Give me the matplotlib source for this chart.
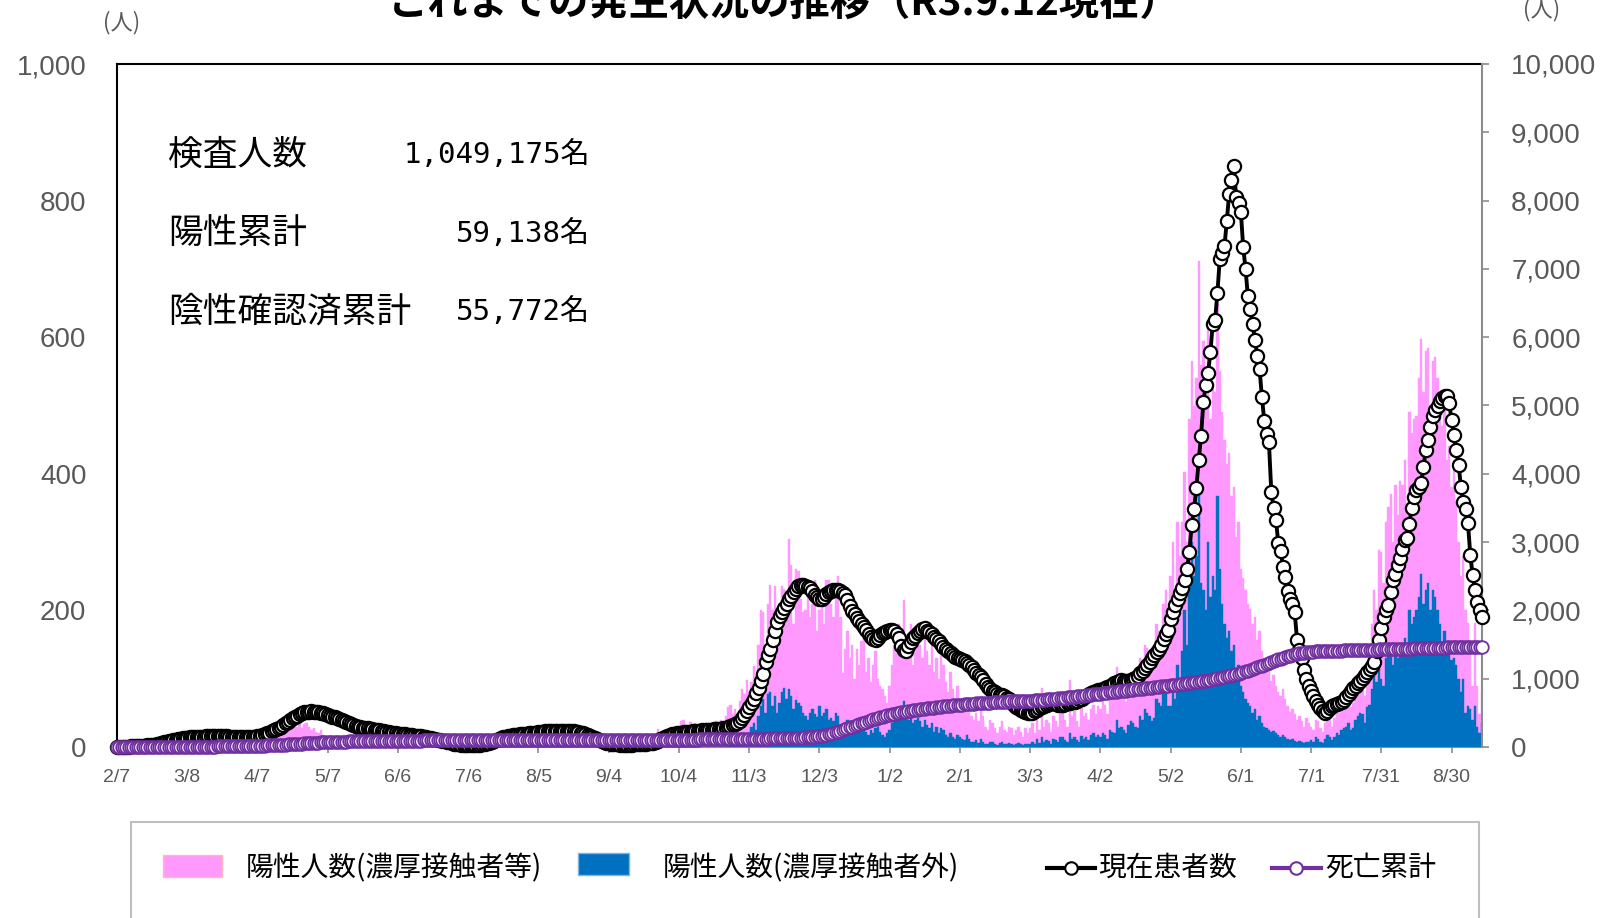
import numpy as np
import pandas as pd
import matplotlib
matplotlib.use("Agg")
import matplotlib.pyplot as plt
from matplotlib.patches import Rectangle
from matplotlib.lines import Line2D
from matplotlib.ticker import FuncFormatter, MultipleLocator

# ---------------- data ----------------
dates = pd.date_range("2020-02-07", "2021-09-12", freq="D")

tick_labels = ["2/7", "3/8", "4/7", "5/7", "6/6", "7/6", "8/5", "9/4", "10/4", "11/3",
               "12/3", "1/2", "2/1", "3/3", "4/2", "5/2", "6/1", "7/1", "7/31", "8/30"]
tick_step = 30

# daily positives, total (pink top) - left axis
daily_total = [
    0, 0, 0, 0, 0, 0, 0, 1, 0, 1, 1, 2, 1, 3, 4, 2, 5, 6, 8, 9, 7, 10, 12, 15, 9, 6, 10, 4, 6, 3,
    3, 5, 2, 4, 1, 6, 3, 2, 1, 3, 2, 4, 1, 2, 3, 1, 0, 2, 1, 3, 2, 4, 5, 3, 6, 4, 3, 5, 7, 9,
    8, 12, 18, 15, 20, 22, 25, 18, 28, 30, 24, 35, 40, 32, 38, 45, 47, 30, 36, 28, 33, 35, 30, 25, 28, 22, 20, 25, 18, 15,
    14, 16, 12, 10, 15, 8, 12, 9, 7, 10, 8, 6, 5, 9, 7, 11, 6, 4, 8, 5, 7, 3, 6, 4, 2, 5, 3, 1, 4, 2,
    3, 2, 4, 1, 2, 0, 3, 2, 1, 5, 2, 3, 1, 0, 2, 4, 1, 3, 2, 0, 1, 2, 0, 1, 3, 1, 0, 2, 1, 0,
    1, 0, 2, 1, 0, 3, 1, 2, 0, 1, 2, 4, 3, 5, 2, 6, 4, 3, 8, 5, 7, 6, 9, 5, 8, 10, 7, 6, 12, 25,
    8, 10, 7, 12, 9, 6, 11, 8, 14, 9, 10, 7, 12, 8, 6, 9, 26, 10, 8, 12, 7, 9, 6, 10, 8, 5, 7, 9, 6, 4,
    5, 3, 6, 4, 8, 5, 7, 3, 6, 9, 5, 8, 4, 7, 10, 6, 9, 12, 8, 11, 7, 26, 10, 14, 9, 12, 16, 11, 15, 13,
    18, 38, 40, 25, 30, 36, 22, 35, 28, 24, 32, 26, 30, 34, 28, 25, 38, 30, 40, 35, 45, 58, 62, 48, 55, 42, 68, 85, 78, 98,
    80, 95, 119, 105, 150, 200, 197, 150, 210, 237, 200, 236, 160, 190, 235, 232, 229, 304, 266, 180,
    260, 257, 216, 197, 200, 233, 190, 210, 244, 170,
    201, 215, 180, 244, 244, 210, 190, 230, 250, 190, 108, 144, 170, 130, 150, 100, 144, 120, 155, 168,
    110, 130, 95, 120, 140, 100, 90, 85, 75, 65,
    90, 120, 150, 138, 180, 150, 215, 160, 140, 180, 120, 160, 175, 150, 130, 175, 140, 120, 150, 110,
    130, 100, 135, 120, 95, 80, 110, 85, 70, 90,
    70, 60, 55, 70, 62, 45, 40, 50, 38, 55, 45, 30, 25, 40, 35, 28, 20, 30, 38, 25, 22, 30, 28, 18, 25, 30, 22, 15, 28, 20,
    28, 35, 20, 45, 25, 86, 30, 40, 35, 22, 45, 38, 30, 50, 55, 40, 30, 98, 45, 52, 38, 30, 58, 45, 50, 40, 55, 62, 48, 60,
    55, 70, 62, 48, 80, 75, 70, 117, 85, 90, 78, 66, 95, 110, 100, 92, 85, 130, 120, 150,
    145, 130, 110, 125, 180, 170, 160, 210, 230, 160,
    250, 300, 230, 330, 280, 330, 402, 300, 480, 565, 500, 540, 712, 560, 595, 500, 618, 480, 535, 520,
    648, 550, 490, 450, 414, 430, 368, 380, 308, 330,
    260, 248, 230, 210, 202, 180, 190, 157, 170, 140, 130, 120, 110, 97, 105, 90, 80, 74, 85, 70,
    60, 51, 55, 48, 40, 45, 38, 30, 42, 35,
    30, 25, 40, 38, 28, 22, 35, 48, 40, 30, 42, 55, 50, 62, 68, 70, 80, 58, 65, 88,
    95, 110, 100, 75, 120, 130, 180, 230, 200, 288,
    285, 240, 330, 352, 370, 300, 384, 340, 390, 384, 420, 350, 490, 460, 480, 484, 540, 598, 520, 580,
    584, 500, 565, 571, 540, 497, 470, 510, 420, 440,
    380, 420, 360, 300, 250, 280, 200, 181, 150, 90, 181, 90, 49, 80,
]

# daily positives, not close contacts (blue) - left axis
daily_other = (
    [0] * 262 + [2, 3, 2, 4, 6, 8, 10, 15] + [
    20, 30, 35, 25, 45, 60, 70, 50, 78, 80, 60, 75, 50, 65, 80, 86, 70, 85, 75, 55,
    69, 65, 60, 50, 45, 40, 50, 55, 48, 44,
    60, 45, 50, 55, 40, 42, 38, 50, 45, 30, 25, 35, 40, 28, 32, 22, 30, 25, 35, 28,
    22, 18, 25, 20, 28, 30, 22, 18, 15, 20,
    25, 35, 40, 50, 55, 45, 68, 50, 40, 45, 35, 40, 42, 38, 30, 40, 32, 28, 35, 22,
    30, 20, 28, 25, 18, 15, 20, 15, 12, 18,
    15, 12, 10, 18, 12, 8, 7, 10, 6, 12, 8, 5, 4, 8, 7, 5, 3, 6, 8, 5, 4, 6, 5, 3, 5, 6, 4, 3, 5, 4,
    5, 8, 4, 12, 6, 15, 8, 10, 9, 5, 12, 10, 8, 14, 15, 10, 8, 20, 12, 15, 10, 8, 16, 12, 15, 10, 18, 20, 15, 18,
    15, 20, 18, 12, 25, 22, 20, 40, 28, 30, 25, 20, 32, 38, 35, 30, 28, 45, 40, 55,
    50, 45, 38, 42, 70, 65, 60, 80, 95, 60,
    60, 90, 70, 120, 100, 140, 200, 150, 260, 300, 250, 280, 370, 240, 230, 200, 300, 220, 250, 230,
    368, 260, 210, 180, 160, 170, 140, 150, 110, 120,
    90, 80, 70, 65, 60, 50, 55, 40, 45, 35, 30, 28, 25, 22, 24, 20, 18, 15, 18, 14,
    12, 10, 11, 9, 8, 9, 7, 6, 8, 7,
    10, 8, 15, 12, 8, 6, 12, 18, 14, 10, 15, 20, 18, 25, 28, 30, 35, 25, 28, 40,
    45, 50, 48, 35, 58, 62, 85, 110, 95, 140,
    100, 90, 130, 147, 140, 120, 137, 130, 150, 140, 160, 150, 200, 180, 190, 200, 220, 254, 210, 230,
    240, 200, 230, 220, 200, 180, 150, 170, 147, 140,
    127, 130, 120, 100, 80, 100, 50, 60, 55, 39, 60, 30, 20, 35,
])

# current patients - right axis
current_patients = [
    5, 5, 5, 6, 6, 7, 8, 9, 10, 12, 14, 16, 19, 22, 26, 30, 36, 42, 50, 58, 66, 74, 82, 90, 98, 106, 114, 120, 126, 132,
    136, 140, 143, 146, 148, 150, 152, 153, 154, 155, 155, 156, 156, 157, 157, 156, 155, 154, 153, 152,
    150, 148, 147, 146, 145, 145, 146, 148, 150, 152,
    155, 162, 172, 185, 198, 212, 228, 245, 262, 280, 300, 322, 345, 370, 395, 420, 440, 460, 478, 494,
    506, 514, 518, 520, 518, 514, 508, 500, 492, 482,
    470, 458, 446, 434, 420, 406, 392, 378, 364, 350, 336, 322, 310, 300, 292, 285, 278, 272, 266, 260,
    254, 248, 242, 236, 230, 224, 218, 212, 206, 200,
    196, 192, 188, 184, 180, 176, 172, 168, 164, 160, 156, 150, 144, 138, 130, 122, 114, 106, 98, 90,
    82, 74, 66, 58, 50, 44, 40, 36, 34, 32,
    30, 30, 30, 31, 32, 34, 38, 44, 52, 62, 74, 88, 102, 116, 130, 142, 152, 160, 166, 172,
    176, 180, 184, 188, 192, 196, 200, 204, 208, 212,
    216, 220, 224, 228, 230, 232, 234, 236, 238, 240, 240, 240, 238, 236, 234, 230, 226, 220, 212, 202,
    190, 176, 160, 144, 128, 112, 98, 84, 72, 62,
    54, 48, 44, 40, 38, 36, 35, 34, 34, 35, 36, 38, 40, 42, 44, 46, 48, 52, 56, 62,
    72, 90, 110, 130, 150, 165, 178, 188, 196, 202,
    206, 210, 214, 218, 222, 226, 230, 233, 236, 239, 242, 245, 248, 251, 254, 257, 260, 264, 268, 274,
    282, 292, 304, 318, 336, 358, 385, 420, 470, 530,
    590, 650, 710, 790, 870, 960, 1070, 1250, 1350, 1440, 1560, 1700, 1830, 1920, 1980, 2030, 2100, 2160, 2210, 2270,
    2320, 2360, 2370, 2365, 2355, 2345, 2330, 2280, 2230, 2190,
    2160, 2170, 2200, 2240, 2270, 2290, 2300, 2300, 2295, 2285, 2260, 2225, 2150, 2060, 1990, 1940, 1890, 1850, 1800, 1760,
    1710, 1650, 1610, 1580, 1570, 1600, 1640, 1670, 1690, 1705,
    1720, 1715, 1705, 1650, 1590, 1480, 1420, 1400, 1480, 1540, 1590, 1630, 1665, 1700, 1730, 1735, 1700, 1680, 1650, 1615,
    1580, 1545, 1510, 1470, 1440, 1400, 1370, 1345, 1325, 1305,
    1285, 1275, 1255, 1230, 1200, 1175, 1130, 1090, 1050, 1030, 980, 920, 880, 850, 820, 800, 780, 765, 760, 740,
    720, 700, 660, 620, 590, 565, 545, 530, 515, 505,
    495, 500, 520, 545, 565, 590, 605, 615, 630, 640, 640, 630, 620, 615, 620, 630, 640, 645, 655, 665,
    680, 700, 710, 730, 750, 770, 785, 800, 815, 830,
    840, 855, 870, 885, 900, 915, 930, 945, 960, 980, 970, 960, 970, 980, 990, 1010, 1040, 1080, 1110, 1160,
    1200, 1250, 1300, 1350, 1390, 1440, 1490, 1580, 1660, 1720,
    1880, 1980, 2080, 2170, 2250, 2330, 2450, 2600, 2850, 3250, 3480, 3790, 4200, 4550, 5050, 5300, 5470, 5780, 6200, 6250,
    6650, 7150, 7240, 7330, 7700, 8100, 8300, 8510, 8050, 7960,
    7840, 7320, 7000, 6600, 6420, 6200, 5960, 5730, 5530, 5120, 4780, 4580, 4460, 3740, 3500, 3330, 2980, 2870, 2640, 2490,
    2290, 2170, 2090, 1970, 1570, 1420, 1300, 1130, 1000, 900,
    820, 740, 680, 620, 570, 530, 500, 520, 570, 600, 615, 635, 650, 665, 690, 730, 780, 820, 860, 900,
    935, 970, 1010, 1060, 1100, 1140, 1180, 1250, 1400, 1570,
    1740, 1900, 2000, 2080, 2270, 2440, 2540, 2660, 2760, 2900, 3030, 3060, 3270, 3500, 3660, 3760, 3810, 3860, 4100, 4350,
    4500, 4690, 4840, 4930, 4990, 5060, 5110, 5140, 5140, 5030,
    4790, 4570, 4350, 4130, 3810, 3590, 3490, 3280, 2810, 2520, 2300, 2130, 2000, 1910,
]

# cumulative deaths - right axis
deaths_cum = [
    0, 0, 0, 0, 0, 0, 0, 0, 0, 0, 0, 0, 0, 0, 0, 0, 0, 0, 1, 1, 1, 1, 1, 1, 1, 2, 2, 2, 2, 2,
    2, 2, 3, 3, 4, 4, 5, 5, 6, 6, 7, 7, 7, 8, 8, 9, 9, 10, 10, 11, 11, 12, 12, 13, 13, 14, 14, 15, 16, 17,
    18, 19, 20, 21, 22, 23, 24, 26, 28, 30, 32, 34, 36, 38, 40, 42, 44, 46, 48, 50, 52, 54, 56, 58, 60, 62, 64, 66, 68, 70,
    72, 73, 74, 75, 76, 77, 78, 79, 80, 81, 82, 83, 84, 85, 86, 86, 87, 87, 88, 88, 89, 89, 90, 90, 90, 91, 91, 91, 92, 92,
    92, 92, 93, 93, 93, 94, 94, 94, 95, 95, 95, 96, 96, 96, 97, 97, 97, 98, 98, 98, 99, 99, 99, 100, 100, 100, 100, 101, 101, 101,
    101, 101, 101, 102, 102, 102, 102, 102, 103, 103, 103, 103, 103, 103, 104, 104, 104, 104, 104, 104,
    104, 104, 104, 105, 105, 105, 105, 105, 105, 105,
    105, 105, 105, 105, 105, 106, 106, 106, 106, 106, 106, 106, 106, 106, 106, 107, 107, 107, 107, 107,
    107, 107, 107, 107, 107, 107, 107, 107, 107, 107,
    107, 107, 107, 107, 107, 108, 108, 108, 108, 108, 108, 108, 108, 108, 108, 108, 108, 108, 108, 108,
    108, 108, 109, 109, 109, 109, 109, 109, 109, 109,
    109, 109, 109, 109, 109, 109, 109, 109, 109, 110, 110, 110, 110, 110, 110, 111, 111, 111, 111, 112,
    112, 112, 113, 113, 113, 114, 114, 115, 115, 116,
    116, 117, 118, 119, 120, 121, 122, 123, 124, 125, 126, 127, 128, 129, 130, 131, 132, 133, 134, 135,
    136, 137, 138, 139, 140, 142, 144, 147, 150, 154,
    158, 164, 170, 178, 186, 195, 205, 215, 226, 238, 250, 262, 274, 286, 298, 310, 322, 334, 346, 358,
    370, 382, 394, 405, 416, 426, 436, 446, 455, 464,
    472, 480, 487, 494, 500, 506, 512, 518, 524, 530, 536, 541, 546, 551, 556, 561, 565, 569, 573, 577,
    581, 585, 589, 593, 597, 601, 605, 609, 612, 615,
    618, 621, 624, 627, 630, 633, 636, 639, 641, 643, 645, 647, 649, 651, 653, 655, 657, 659, 661, 663,
    665, 667, 668, 669, 670, 671, 672, 673, 674, 675,
    677, 680, 683, 686, 689, 692, 695, 698, 701, 704, 707, 710, 713, 716, 719, 722, 726, 730, 734, 738,
    742, 746, 750, 754, 758, 762, 766, 770, 774, 778,
    782, 786, 790, 794, 798, 802, 806, 810, 814, 818, 822, 826, 830, 834, 838, 842, 846, 850, 854, 858,
    862, 866, 870, 874, 878, 882, 886, 890, 894, 898,
    902, 906, 910, 914, 918, 922, 926, 930, 935, 940, 945, 950, 955, 960, 966, 972, 978, 984, 990, 997,
    1004, 1011, 1018, 1026, 1034, 1042, 1050, 1058, 1066, 1075,
    1085, 1095, 1106, 1117, 1129, 1141, 1153, 1166, 1179, 1192, 1205, 1218, 1231, 1244, 1257, 1270, 1283, 1295, 1307, 1318,
    1329, 1339, 1348, 1357, 1365, 1372, 1378, 1383, 1388, 1392,
    1396, 1398, 1400, 1402, 1403, 1404, 1405, 1406, 1407, 1408, 1409, 1410, 1411, 1412, 1413, 1414, 1415, 1416, 1417, 1418,
    1419, 1420, 1421, 1422, 1423, 1424, 1425, 1426, 1427, 1428,
    1429, 1430, 1431, 1432, 1433, 1434, 1435, 1436, 1437, 1438, 1439, 1440, 1441, 1442, 1443, 1444, 1445, 1446, 1447, 1448,
    1449, 1450, 1451, 1452, 1453, 1454, 1455, 1456, 1457, 1458,
    1459, 1460, 1461, 1461, 1462, 1462, 1463, 1463, 1464, 1464, 1465, 1465, 1466, 1466,
]

summary_labels = ["検査人数", "陽性累計", "陰性確認済累計"]
summary_values = ["1,049,175名", "59,138名", "55,772名"]
legend_labels = ["陽性人数(濃厚接触者等)", "陽性人数(濃厚接触者外)", "現在患者数", "死亡累計"]
title_text = "これまでの発生状況の推移（R3.9.12現在）"

n = len(dates)
for name, arr in [("total", daily_total), ("other", daily_other),
                  ("current", current_patients), ("deaths", deaths_cum)]:
    assert len(arr) == n, (name, len(arr), n)

# ---------------- style ----------------
PINK = "#FF99FF"
BLUE = "#0070C0"
PURPLE = "#7030A0"
TXT = "#595959"
AXGRAY = "#8C8C8C"
JP = ["Noto Sans CJK JP", "DejaVu Sans"]

plt.rcParams["font.family"] = ["Liberation Sans", "Noto Sans CJK JP", "DejaVu Sans"]

W, H = 1620, 918
fig = plt.figure(figsize=(W / 100, H / 100), dpi=100)
L, R, T, B = 117, 1482, 64, 747
ax = fig.add_axes([L / W, 1 - B / H, (R - L) / W, (B - T) / H])

days = np.arange(n)
ax.bar(days, daily_total, width=1.0, color=PINK, edgecolor=PINK, linewidth=0.3, zorder=2)
ax.bar(days, daily_other, width=1.0, color=BLUE, edgecolor=BLUE, linewidth=0.3, zorder=3)
ax.set_xlim(0, n - 1)
ax.set_ylim(0, 1000)
ax.yaxis.set_major_locator(MultipleLocator(200))
fmt = FuncFormatter(lambda v, p: f"{int(v):,}")
ax.yaxis.set_major_formatter(fmt)
ax.tick_params(axis="y", length=0, pad=22, labelsize=20, labelcolor=TXT)
ax.set_xticks(days[::tick_step])
ax.set_xticklabels(tick_labels)
ax.tick_params(axis="x", direction="out", length=4, width=1.2, color=AXGRAY,
               pad=12, labelsize=14, labelcolor=TXT)

ax2 = ax.twinx()
ax2.set_ylim(0, 10000)
ax2.set_xlim(0, n - 1)
ax2.yaxis.set_major_locator(MultipleLocator(1000))
ax2.yaxis.set_major_formatter(fmt)
ax2.tick_params(axis="y", direction="out", length=5, width=1.2, color=AXGRAY,
                pad=16, labelsize=20, labelcolor=TXT)
ax2.plot(days, current_patients, "-o", color="black", lw=2.8, ms=9.5,
         mfc="white", mec="black", mew=1.6, clip_on=False, zorder=3)
ax2.plot(days, deaths_cum, "-o", color=PURPLE, lw=2.8, ms=9,
         mfc="white", mec=PURPLE, mew=1.3, clip_on=False, zorder=4)

for a in (ax, ax2):
    a.spines["left"].set_color("black")
    a.spines["top"].set_color("black")
    a.spines["right"].set_color(AXGRAY)
    a.spines["bottom"].set_color(AXGRAY)
    for s in a.spines.values():
        s.set_linewidth(1.5)
ax2.spines["left"].set_visible(False)
ax2.spines["bottom"].set_visible(False)
ax2.spines["top"].set_visible(False)
ax.spines["right"].set_visible(False)
ax.set_zorder(1)
ax2.set_zorder(2)
ax2.patch.set_visible(False)

# titles and unit labels
fig.text(784 / W, 1 - 15 / H, title_text, ha="center", va="baseline",
         fontsize=29, fontweight="bold", family=JP, color="black")
fig.text(122 / W, 1 - 23 / H, "(人)", ha="center", va="center", fontsize=16,
         family=JP, color=TXT)
fig.text(1542 / W, 1 - 10 / H, "(人)", ha="center", va="center", fontsize=16,
         family=JP, color=TXT)

# summary block
for i, (lab, val) in enumerate(zip(summary_labels, summary_values)):
    yy = 1 - [155, 234, 312][i] / H
    fig.text(168 / W, yy, lab, ha="left", va="center", fontsize=25, family=JP, color="black")
    fig.text(590 / W, yy, val, ha="right", va="center", fontsize=21,
             family=["DejaVu Sans Mono", "Noto Sans CJK JP"], color="black")

# legend (drawn in figure space)
fig.add_artist(Rectangle((131 / W, -0.02), (1479 - 131) / W, 0.02 + 1 - 822 / H,
                         transform=fig.transFigure, facecolor="white",
                         edgecolor="#BFBFBF", linewidth=1.5))
ly = 1 - 868 / H
fig.add_artist(Rectangle((163 / W, 1 - 877 / H), 59 / W, 22 / H, transform=fig.transFigure,
                         facecolor=PINK, edgecolor="#FFB8B8", linewidth=1.0))
fig.text(246 / W, ly, legend_labels[0], ha="left", va="center", fontsize=20, family=JP, color="black")
fig.add_artist(Rectangle((578 / W, 1 - 875 / H), 51 / W, 22 / H, transform=fig.transFigure,
                         facecolor=BLUE, edgecolor="#7FB3E0", linewidth=1.0))
fig.text(663 / W, ly, legend_labels[1], ha="left", va="center", fontsize=20, family=JP, color="black")
fig.add_artist(Line2D([1047 / W, 1095 / W], [ly, ly], transform=fig.transFigure, color="black", lw=3))
fig.add_artist(Line2D([1071 / W], [ly], transform=fig.transFigure, color="black", lw=0,
                      marker="o", ms=9, mfc="white", mec="black", mew=1.5))
fig.text(1098 / W, ly, legend_labels[2], ha="left", va="center", fontsize=20, family=JP, color="black")
fig.add_artist(Line2D([1272 / W, 1321 / W], [ly, ly], transform=fig.transFigure, color=PURPLE, lw=3))
fig.add_artist(Line2D([1296 / W], [ly], transform=fig.transFigure, color=PURPLE, lw=0,
                      marker="o", ms=9, mfc="white", mec=PURPLE, mew=1.5))
fig.text(1325 / W, ly, legend_labels[3], ha="left", va="center", fontsize=20, family=JP, color="black")

fig.savefig("out.png", dpi=100)
